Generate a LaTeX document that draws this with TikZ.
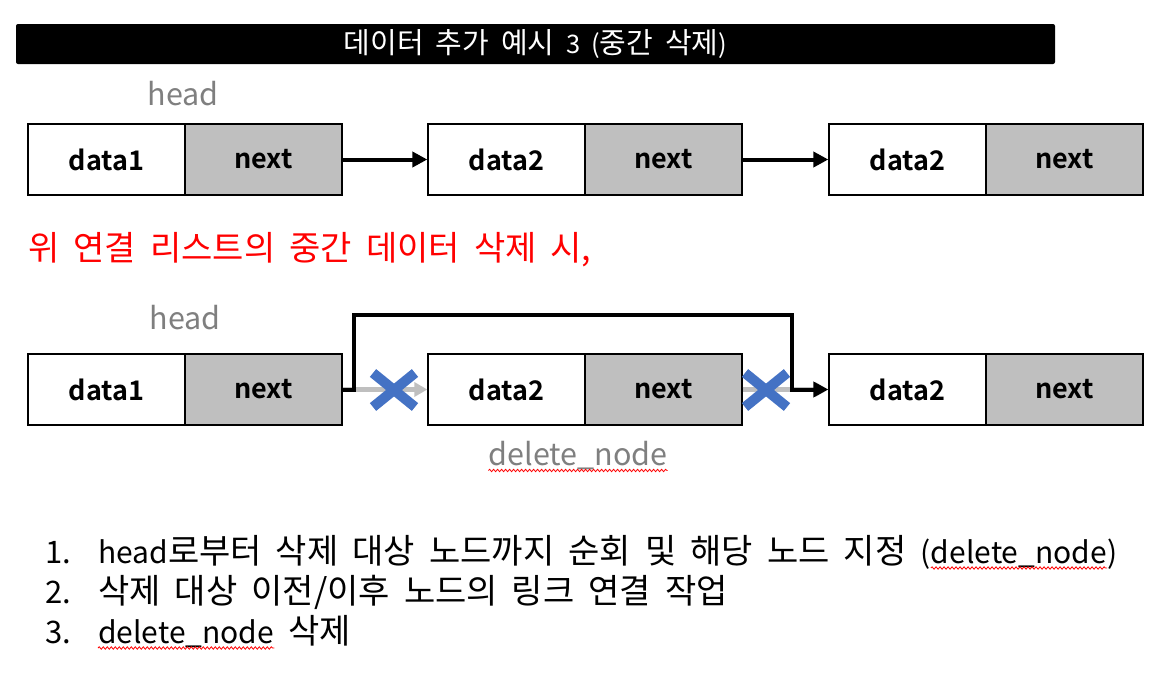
\documentclass[tikz,border=0pt]{standalone}
\usepackage{fontspec}
\setmainfont{Noto Sans CJK KR}[BoldFont={Noto Sans CJK KR Bold},WordSpace=1.85]
\usetikzlibrary{arrows.meta,calc,decorations.pathmorphing}
\definecolor{boxgray}{HTML}{BFBFBF}
\definecolor{txtgray}{HTML}{7F7F7F}
\definecolor{xblue}{HTML}{4472C4}
\definecolor{redtxt}{HTML}{FF0000}
\newcommand\latin[2]{{\fontsize{#1}{#1}\selectfont #2}}
\tikzset{
  cell/.style={draw=black,line width=1.3pt,minimum width=157pt,minimum height=71pt,inner sep=0pt,
    font=\fontsize{27}{30}\selectfont\bfseries},
  datacell/.style={cell,fill=white},
  nextcell/.style={cell,fill=boxgray},
  link/.style={line width=4pt,-{Triangle[length=15pt,width=15pt]}},
  oldlink/.style={line width=5pt,boxgray,-{Triangle[length=13pt,width=14pt]}},
  xmark/.style={line width=10pt,xblue},
  graylabel/.style={text=txtgray,font=\fontsize{30.5}{34}\selectfont,inner sep=0pt},
  listline/.style={anchor=base west,inner sep=0pt,font=\fontsize{34}{36}\selectfont},
  wave/.style={draw=red,line width=0.8pt,decorate,decoration={snake,amplitude=1.2pt,segment length=4pt}}
}
\begin{document}
\begin{tikzpicture}[x=1pt,y=-1pt]
\useasboundingbox (0,0) rectangle (1171,681);
% title
\node[fill=black,rounded corners=2pt,minimum width=1039pt,minimum height=40pt,inner sep=0pt,
  text=white,font=\fontsize{29}{30}\selectfont] (title) at (535.5,44) {데이터 추가 예시 \latin{25.5}{3 (}중간 삭제\latin{25.5}{)}};
% row 1
\node[graylabel] (head1) at (183,94) {head};
\node[datacell] (d1a) at (106.5,159.5) {data1};
\node[nextcell] (n1a) at (263.5,159.5) {next};
\node[datacell] (d2a) at (506.5,159.5) {data2};
\node[nextcell] (n2a) at (663.5,159.5) {next};
\node[datacell] (d3a) at (907.5,159.5) {data2};
\node[nextcell] (n3a) at (1064.5,159.5) {next};
\draw[link] (n1a.east) -- (d2a.west);
\draw[link] (n2a.east) -- (d3a.west);
% red sentence
\node[anchor=west,inner sep=0pt,text=redtxt,font=\fontsize{34}{36}\selectfont] (msg) at (28,250) {위 연결 리스트의 중간 데이터 삭제 시,};
% row 2
\node[graylabel] (head2) at (185,318) {head};
\node[datacell] (d1b) at (106.5,389.5) {data1};
\node[nextcell] (n1b) at (263.5,389.5) {next};
\node[datacell] (d2b) at (506.5,389.5) {data2};
\node[nextcell] (n2b) at (663.5,389.5) {next};
\node[datacell] (d3b) at (907.5,389.5) {data2};
\node[nextcell] (n3b) at (1064.5,389.5) {next};
\draw[oldlink] (n1b.east) -- (d2b.west);
\draw[oldlink] (n2b.east) -- (d3b.west);
\coordinate (up1) at (354,315);
\coordinate (up2) at (792,315);
\draw[link] (n1b.east) -| (up1) -- (up2) |- (d3b.west);
\coordinate (x1) at (394,390);
\coordinate (x2) at (766,390);
\draw[xmark] ($(x1)+(-21,-17)$) -- ($(x1)+(21,17)$);
\draw[xmark] ($(x1)+(-21,17)$) -- ($(x1)+(21,-17)$);
\draw[xmark] ($(x2)+(-21,-17)$) -- ($(x2)+(21,17)$);
\draw[xmark] ($(x2)+(-21,17)$) -- ($(x2)+(21,-17)$);
\node[graylabel] (del) at (578,455) {delete\_node};
\draw[wave] ([yshift=-1pt]del.south west) -- ([yshift=-1pt]del.south east);
% list
\node[listline] (n1) at (45,563) {\latin{31}{1.}};
\node[listline] (t1) at (98,563) {\latin{30}{head}로부터 삭제 대상 노드까지 순회 및 해당 노드 지정 \latin{30}{(}};
\node[listline] (t1b) at (t1.base east) {\latin{30}{delete\_node}};
\node[listline] (t1c) at (t1b.base east) {\latin{30}{)}};
\node[listline] (n2) at (45,603) {\latin{31}{2.}};
\node[listline] (t2) at (98,603) {삭제 대상 이전/이후 노드의 링크 연결 작업};
\node[listline] (n3) at (45,643) {\latin{31}{3.}};
\node[listline] (t3) at (98,643) {\latin{30}{delete\_node}};
\node[listline] (t3b) at (t3.base east) {\ 삭제};
\draw[wave] ([yshift=-5pt]t1b.base west) -- ([yshift=-5pt]t1b.base east);
\draw[wave] ([yshift=-5pt]t3.base west) -- ([yshift=-5pt]t3.base east);
\end{tikzpicture}
\end{document}
